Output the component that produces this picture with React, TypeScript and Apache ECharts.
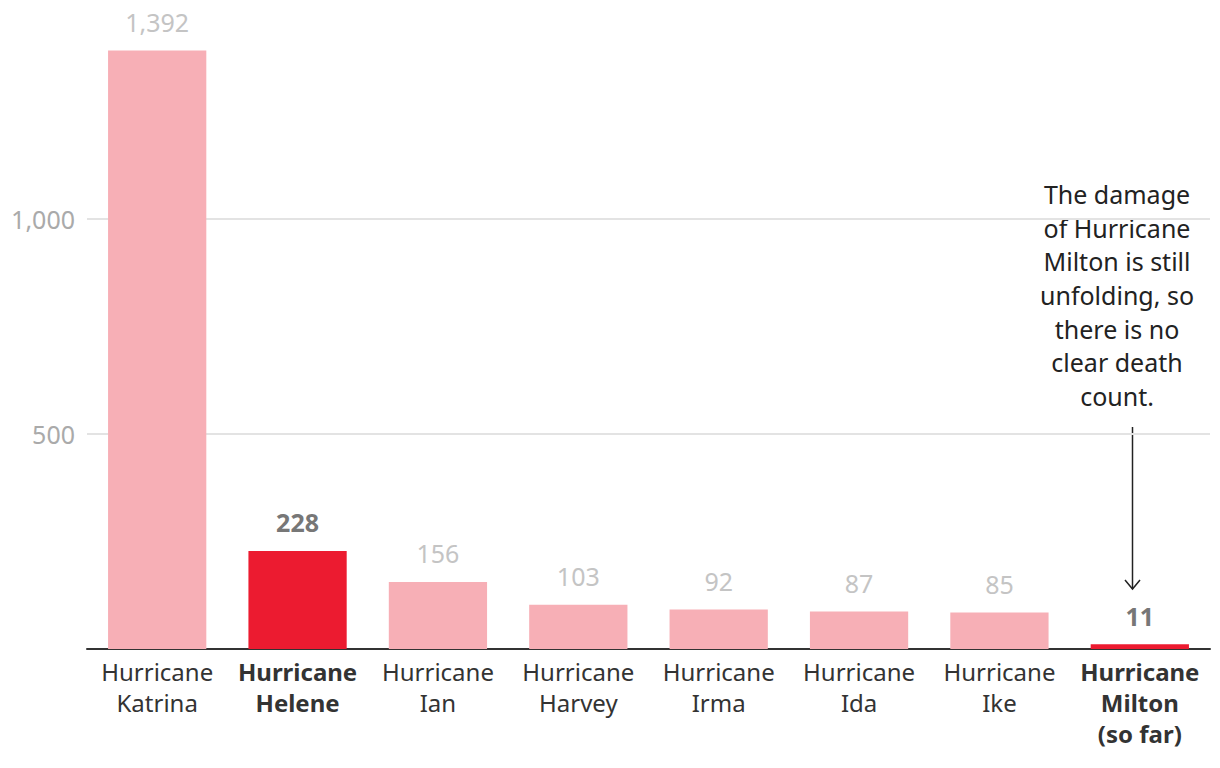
import React, { useEffect, useRef } from "react";
import * as echarts from "echarts";

const categories = [
  "Hurricane\nKatrina",
  "Hurricane\nHelene",
  "Hurricane\nIan",
  "Hurricane\nHarvey",
  "Hurricane\nIrma",
  "Hurricane\nIda",
  "Hurricane\nIke",
  "Hurricane\nMilton\n(so far)",
];
const deaths = [1392, 228, 156, 103, 92, 87, 85, 11];
const highlighted = [false, true, false, false, false, false, false, true];
const yTicks = [0, 500, 1000];
const annotationLines = [
  "The damage",
  "of Hurricane",
  "Milton is still",
  "unfolding, so",
  "there is no",
  "clear death",
  "count.",
];

const FONT = "'Noto Sans', 'Open Sans', sans-serif";
const PINK = "#f7afb6";
const RED = "#ec1b30";
const FS = 25;
const XFS = 24;
const XLH = 31;

export default function App() {
  const ref = useRef<HTMLDivElement>(null);
  useEffect(() => {
    if (!ref.current) return;
    const chart = echarts.init(ref.current, undefined, { renderer: "svg" });
    const data = deaths.map((v, i) => ({
      value: v,
      itemStyle: { color: highlighted[i] ? RED : PINK },
      label: highlighted[i]
        ? { color: "#777777", fontWeight: "bold" as any }
        : { color: "#c4c4c4", fontWeight: "normal" as any },
    }));
    chart.setOption({
      animation: false,
      textStyle: { fontFamily: FONT },
      grid: { left: 87, right: 10, top: 47, bottom: 119, containLabel: false },
      xAxis: {
        type: "category",
        data: categories,
        axisTick: { show: false },
        axisLine: { lineStyle: { color: "#333333", width: 2 } },
        axisLabel: {
          interval: 0,
          margin: 7,
          color: "#333333",
          fontSize: XFS,
          lineHeight: XLH,
          fontFamily: FONT,
          formatter: (value: string, idx: number) =>
            highlighted[idx]
              ? value.split("\n").map((l) => `{b|${l}}`).join("\n")
              : value,
          rich: {
            b: {
              fontWeight: "bold",
              fontSize: XFS,
              lineHeight: XLH,
              color: "#333333",
              fontFamily: FONT,
            },
          },
        },
      },
      yAxis: {
        type: "value",
        min: 0,
        max: 1400,
        interval: 500,
        axisLine: { show: false },
        axisTick: { show: false },
        splitLine: {
          show: true,
          showMinLine: false,
          showMaxLine: false,
          lineStyle: { color: "#e3e3e3", width: 2 },
        },
        axisLabel: {
          showMinLabel: false,
          showMaxLabel: false,
          margin: 12,
          color: "#aaaaaa",
          fontSize: FS,
          fontFamily: FONT,
          formatter: (v: number) =>
            yTicks.includes(v) ? v.toLocaleString("en-US") : "",
        },
      },
      series: [
        {
          type: "bar",
          data,
          barWidth: "70%",
          label: {
            show: true,
            position: "top",
            distance: 16,
            fontSize: FS,
            fontFamily: FONT,
            formatter: (p: any) => Number(p.value).toLocaleString("en-US"),
          },
        },
      ],
      graphic: [
        {
          type: "text",
          x: 1117,
          y: 177,
          style: {
            text: annotationLines.join("\n"),
            fill: "#222222",
            fontSize: FS,
            lineHeight: 33.7,
            fontFamily: FONT,
            align: "center",
            verticalAlign: "top",
          },
        },
        {
          type: "line",
          shape: { x1: 1132.5, y1: 427, x2: 1132.5, y2: 589 },
          style: { stroke: "#222222", lineWidth: 1.5 },
        },
        {
          type: "polyline",
          shape: {
            points: [
              [1125, 580],
              [1132.5, 589],
              [1140, 580],
            ],
          },
          style: { stroke: "#222222", lineWidth: 1.5, fill: "none" },
        },
      ],
    });
    return () => chart.dispose();
  }, []);
  return <div ref={ref} style={{ width: 1220, height: 768, margin: -8 }} />;
}
